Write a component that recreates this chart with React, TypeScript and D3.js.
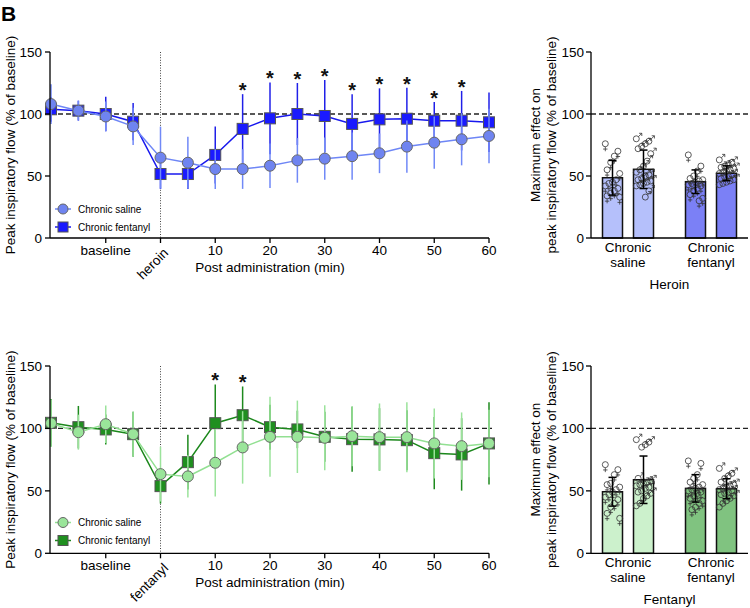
import React from "react";
import * as d3 from "d3";

// ---------- DATA ----------
const timeLabels = ["b1", "b2", "b3", "b4", "0", "5", "10", "15", "20", "25", "30", "35", "40", "45", "50", "55", "60"];
const tickIndex = [2, 4, 6, 8, 10, 12, 14, 16];
const tickText = ["baseline", "DRUG", "10", "20", "30", "40", "50", "60"];

const heroinSalineMean = [108, 102.7, 98, 90, 64.8, 60.7, 55.6, 55.6, 58.3, 62.6, 64, 66, 68.3, 73.7, 76.9, 79.6, 82.3];
const heroinSalineSD = [16, 8, 12, 15, 25, 21, 16, 16, 18, 18, 17, 19, 16, 21, 21, 21, 22];
const heroinFentMean = [103.8, 102.7, 100, 93.8, 51.6, 51.6, 67, 88, 96.5, 100, 98.4, 92, 95.7, 96.2, 94.6, 94.6, 93.3];
const heroinFentSD = [10, 8, 14, 15, 12, 12, 23, 28, 29, 25, 29, 24, 25, 25, 15, 24, 24];
const heroinStars = [7, 8, 9, 10, 11, 12, 13, 14, 15];

const fentSalineMean = [104.2, 97, 103.4, 95.4, 63.4, 61.6, 72.5, 84.8, 93.3, 93.3, 92.5, 93.8, 93, 93, 88, 85.8, 88];
const fentSalineSD = [19, 14, 15, 18, 22, 17, 27, 29, 32, 29, 26, 24, 27, 28, 28, 27, 27];
const fentFentMean = [104.5, 101, 99.2, 95.4, 53.8, 73, 104.2, 110.6, 101, 99.2, 93.3, 91.4, 91.2, 90.6, 80.2, 79.2, 88];
const fentFentSD = [19, 17, 12, 18, 14, 22, 31, 23, 18, 15, 20, 26, 25, 24, 29, 29, 33];
const fentStars = [6, 7];

const groups = ["Chronic saline", "Chronic fentanyl"];
const heroinBarMean = [48.6, 55.4, 45.4, 52.2];
const heroinBarSD = [14, 15.5, 9.5, 6];
const heroinPts = [
  [76, 70, 66, 61, 55, 52, 47, 45, 44, 42, 40, 38, 36, 34, 33],
  [80, 78, 76, 74, 72, 68, 62, 58, 55, 53, 51, 50, 48, 47, 46, 45, 44, 43, 42, 38, 33],
  [67, 58, 54, 50, 48, 47, 46, 45, 44, 43, 42, 40, 38, 35, 32, 30],
  [63, 61, 59, 58, 57, 56, 55, 54, 53, 52, 51, 50, 49, 48, 47, 46, 45, 44, 43],
];
const fentBarMean = [49.3, 58.9, 52, 51.7];
const fentBarSD = [11.5, 19, 11, 8];
const fentPts = [
  [71, 67, 63, 56, 55, 53, 51, 49, 47, 45, 43, 40, 37, 32, 28],
  [91, 89, 87, 85, 60, 58, 57, 56, 55, 54, 53, 52, 50, 49, 48, 46, 44, 40, 38],
  [74, 72, 63, 60, 57, 55, 53, 52, 51, 50, 49, 48, 46, 44, 42, 40, 37, 35],
  [68, 64, 62, 60, 57, 55, 54, 53, 52, 51, 50, 49, 48, 47, 46, 44, 42, 40, 37],
];
const yTicks = [0, 50, 100, 150];

const FONT = "'Liberation Sans', Arial, Helvetica, sans-serif";

type Pal = {
  salFill: string; salLine: string; salErr: string;
  fenFill: string; fenLine: string; fenErr: string;
  barSal: string; barFen: string;
};
const bluePal: Pal = {
  salFill: "#6f84f0", salLine: "#6e86f6", salErr: "#7189f7",
  fenFill: "#1a1aff", fenLine: "#1818ee", fenErr: "#2020e8",
  barSal: "#b5c0fb", barFen: "#7b80f6",
};
const greenPal: Pal = {
  salFill: "#9ae59a", salLine: "#92e092", salErr: "#9be39b",
  fenFill: "#1f8f1f", fenLine: "#1b871b", fenErr: "#1e8a1e",
  barSal: "#ccf1cc", barFen: "#80c380",
};

function LinePanel({ top, bottom, pal, sMean, sSD, fMean, fSD, stars, drug, legY }: any) {
  const x = d3.scaleLinear().domain([0, timeLabels.length - 1]).range([51, 489]);
  const y = d3.scaleLinear().domain([0, 150]).range([bottom, top]);
  const line = d3.line<number>().x((_, i) => x(i)).y((d) => y(d));
  const series = (mean: number[], sd: number[], fill: string, lc: string, ec: string, shape: string) => (
    <g>
      {mean.map((m, i) => (
        <line key={"e" + i} x1={x(i)} x2={x(i)} y1={y(m - sd[i])} y2={y(m + sd[i])} stroke={ec} strokeWidth={1.5} />
      ))}
      <path d={line(mean) || ""} fill="none" stroke={lc} strokeWidth={1.5} />
      {mean.map((m, i) =>
        shape === "circle" ? (
          <circle key={"m" + i} cx={x(i)} cy={y(m)} r={5.5} fill={fill} stroke="#666" strokeWidth={1} />
        ) : (
          <rect key={"m" + i} x={x(i) - 5.5} y={y(m) - 5.5} width={11} height={11} fill={fill} stroke="#555" strokeWidth={1} />
        )
      )}
    </g>
  );
  return (
    <g fontFamily={FONT}>
      {/* reference lines */}
      <line x1={x(4)} x2={x(4)} y1={y(150)} y2={bottom} stroke="#444" strokeWidth={1} strokeDasharray="1,1.6" />
      <line x1={50} x2={492} y1={y(100)} y2={y(100)} stroke="#222" strokeWidth={1.3} strokeDasharray="5,3" />
      {series(fMean, fSD, pal.fenFill, pal.fenLine, pal.fenErr, "square")}
      {series(sMean, sSD, pal.salFill, pal.salLine, pal.salErr, "circle")}
      {stars.map((i: number) => (
        <text key={"s" + i} x={x(i)} y={y(fMean[i] + fSD[i]) - 8 + 11} textAnchor="middle" fontSize={20} fontWeight="bold" fill="#111">*</text>
      ))}
      {/* y axis */}
      <line x1={50} x2={50} y1={y(150)} y2={bottom} stroke="#000" strokeWidth={1.3} />
      {yTicks.map((t) => (
        <g key={t}>
          <line x1={45} x2={50} y1={y(t)} y2={y(t)} stroke="#000" strokeWidth={1.3} />
          <text x={42} y={y(t)} dy="0.35em" textAnchor="end" fontSize={13.5}>{t}</text>
        </g>
      ))}
      <text transform={`translate(15,${(top + bottom) / 2}) rotate(-90)`} textAnchor="middle" fontSize={13.5}>
        Peak inspiratory flow (% of baseline)
      </text>
      {/* x axis */}
      <line x1={50} x2={x(16)} y1={bottom} y2={bottom} stroke="#000" strokeWidth={1.3} />
      {tickIndex.map((ti, k) => (
        <g key={ti}>
          <line x1={x(ti)} x2={x(ti)} y1={bottom} y2={bottom + 5} stroke="#000" strokeWidth={1.3} />
          {k === 1 ? (
            <text transform={`translate(${x(ti) + 2},${bottom + 9}) rotate(-45)`} textAnchor="end" dy="0.7em" fontSize={13.5}>{drug}</text>
          ) : (
            <text x={x(ti)} y={bottom + 12} dy="0.35em" textAnchor="middle" fontSize={13.5}>{tickText[k]}</text>
          )}
        </g>
      ))}
      <text x={x(8)} y={bottom + 29} dy="0.35em" textAnchor="middle" fontSize={13.5}>Post administration (min)</text>
      {/* legend */}
      <g fontSize={10}>
        <line x1={55} x2={71} y1={legY} y2={legY} stroke={pal.salLine} strokeWidth={1.5} />
        <circle cx={63} cy={legY} r={5} fill={pal.salFill} stroke="#666" strokeWidth={1} />
        <text x={78} y={legY} dy="0.35em">Chronic saline</text>
        <line x1={55} x2={71} y1={legY + 18} y2={legY + 18} stroke={pal.fenLine} strokeWidth={1.5} />
        <rect x={58} y={legY + 13} width={10} height={10} fill={pal.fenFill} stroke="#555" strokeWidth={1} />
        <text x={78} y={legY + 18} dy="0.35em">Chronic fentanyl</text>
      </g>
    </g>
  );
}

function sexSymbol(cx: number, cy: number, female: boolean, key: string) {
  const r = 3;
  return (
    <g key={key} fill="none" stroke="#333" strokeWidth={0.8}>
      <circle cx={cx} cy={cy} r={r} />
      {female ? (
        <path d={`M${cx},${cy + r} V${cy + r + 4.5} M${cx - 2.2},${cy + r + 2.3} H${cx + 2.2}`} />
      ) : (
        <path d={`M${cx + 2.1},${cy - 2.1} L${cx + 5.5},${cy - 5.5} M${cx + 2.8},${cy - 5.5} H${cx + 5.5} V${cy - 2.8}`} />
      )}
    </g>
  );
}

function BarPanel({ top, bottom, pal, means, sds, pts, title }: any) {
  const y = d3.scaleLinear().domain([0, 150]).range([bottom, top]);
  const gx = d3.scalePoint<string>().domain(groups).range([628, 711]);
  const barX = [0, 1, 2, 3].map((i) => (gx(groups[Math.floor(i / 2)]) as number) + (i % 2 === 0 ? -15.5 : 15.5));
  const bw = 20;
  return (
    <g fontFamily={FONT}>
      <line x1={591} x2={750} y1={y(100)} y2={y(100)} stroke="#222" strokeWidth={1.3} strokeDasharray="5,3" />
      {means.map((m: number, i: number) => (
        <rect key={"b" + i} x={barX[i] - bw / 2} y={y(m)} width={bw} height={bottom - y(m)}
          fill={i < 2 ? pal.barSal : pal.barFen} stroke="#111" strokeWidth={1.5} />
      ))}
      {pts.map((arr: number[], i: number) =>
        arr.map((v, j) => {
          const off = (((j * 7) % 9) - 4) * 1.8;
          return sexSymbol(barX[i] + off, y(v), i % 2 === 0, `p${i}-${j}`);
        })
      )}
      {means.map((m: number, i: number) => (
        <g key={"e" + i} stroke="#000" strokeWidth={1.5}>
          <line x1={barX[i]} x2={barX[i]} y1={y(m - sds[i])} y2={y(m + sds[i])} />
          <line x1={barX[i] - 4} x2={barX[i] + 4} y1={y(m - sds[i])} y2={y(m - sds[i])} />
          <line x1={barX[i] - 4} x2={barX[i] + 4} y1={y(m + sds[i])} y2={y(m + sds[i])} />
        </g>
      ))}
      <line x1={591} x2={591} y1={y(150)} y2={bottom} stroke="#000" strokeWidth={1.3} />
      <line x1={591} x2={748} y1={bottom} y2={bottom} stroke="#000" strokeWidth={1.3} />
      {yTicks.map((t) => (
        <g key={t}>
          <line x1={586} x2={591} y1={y(t)} y2={y(t)} stroke="#000" strokeWidth={1.3} />
          <text x={584} y={y(t)} dy="0.35em" textAnchor="end" fontSize={13.5}>{t}</text>
        </g>
      ))}
      <text transform={`translate(535,${(top + bottom) / 2}) rotate(-90)`} textAnchor="middle" dy="0.35em" fontSize={13.5}>Maximum effect on</text>
      <text transform={`translate(551.5,${(top + bottom) / 2}) rotate(-90)`} textAnchor="middle" dy="0.35em" fontSize={13.5}>peak inspiratory flow (% of baseline)</text>
      {groups.map((g) => {
        const [a, b] = g.split(" ");
        return (
          <g key={g}>
            <text x={gx(g)} y={bottom + 9} dy="0.35em" textAnchor="middle" fontSize={13.5}>{a}</text>
            <text x={gx(g)} y={bottom + 24} dy="0.35em" textAnchor="middle" fontSize={13.5}>{b}</text>
          </g>
        );
      })}
      <text x={669.5} y={bottom + 46} dy="0.35em" textAnchor="middle" fontSize={13.5}>{title}</text>
    </g>
  );
}

export default function App() {
  return (
    <svg width={750} height={608} style={{ position: "absolute", left: 0, top: 0, background: "#fff" }}>
      <rect width={750} height={608} fill="#fff" />
      <text x={1} y={21} fontFamily={FONT} fontWeight="bold" fontSize={21}>B</text>
      <LinePanel top={52} bottom={238} pal={bluePal} sMean={heroinSalineMean} sSD={heroinSalineSD}
        fMean={heroinFentMean} fSD={heroinFentSD} stars={heroinStars} drug="heroin" legY={209} />
      <BarPanel top={52} bottom={238} pal={bluePal} means={heroinBarMean} sds={heroinBarSD} pts={heroinPts} title="Heroin" />
      <LinePanel top={366} bottom={553.3} pal={greenPal} sMean={fentSalineMean} sSD={fentSalineSD}
        fMean={fentFentMean} fSD={fentFentSD} stars={fentStars} drug="fentanyl" legY={522.5} />
      <BarPanel top={366} bottom={553.3} pal={greenPal} means={fentBarMean} sds={fentBarSD} pts={fentPts} title="Fentanyl" />
    </svg>
  );
}
